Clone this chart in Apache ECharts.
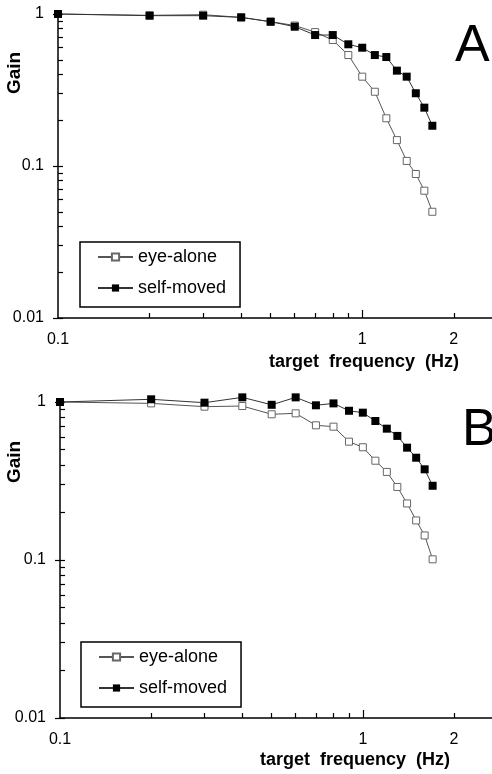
<!DOCTYPE html>
<html><head><meta charset="utf-8">
<script src="https://cdn.jsdelivr.net/npm/echarts@6/dist/echarts.min.js"></script>
<style>html,body{margin:0;padding:0;background:#fff}#c{width:492px;height:774px}</style>
</head><body><div id="c"></div>
<script>
const freqs = [0.1,0.2,0.3,0.4,0.5,0.6,0.7,0.8,0.9,1.0,1.1,1.2,1.3,1.4,1.5,1.6,1.7];
const eyeA  = [1.0,0.98,0.99,0.95,0.89,0.84,0.76,0.674,0.537,0.387,0.308,0.206,0.148,0.108,0.0886,0.0688,0.050];
const selfA = [1.0,0.975,0.975,0.95,0.89,0.825,0.727,0.727,0.632,0.600,0.537,0.521,0.424,0.387,0.301,0.242,0.184];
const eyeB  = [1.0,0.98,0.934,0.943,0.836,0.848,0.712,0.698,0.561,0.517,0.425,0.361,0.29,0.228,0.178,0.143,0.101];
const selfB = [1.0,1.04,0.99,1.07,0.96,1.07,0.953,0.98,0.88,0.856,0.758,0.678,0.61,0.514,0.444,0.375,0.295];
const seriesNames = ['eye-alone','self-moved'];
const xMinorTicks = [0.2,0.3,0.4,0.5,0.6,0.7,0.8,0.9,2];
const xMajorTicks = [1];
const xLabels = [0.1,1,2];
const yMinorTicks = [0.02,0.03,0.04,0.05,0.06,0.07,0.08,0.09,0.2,0.3,0.4,0.5,0.6,0.7,0.8,0.9];
const yMajorTicks = [0.01,0.1,1];
const xTitle = 'target  frequency  (Hz)';
const yTitle = 'Gain';
const panelLetters = ['A','B'];

const FONT = 'Liberation Sans, Arial, sans-serif';
const fmt = v => String(Number(Number(v).toPrecision(6)));
const XMIN = 0.1, XMAX = 2.67, YMIN = 0.01, YMAX = 1;

function pair(d){ return freqs.map((f,i)=>[f,d[i]]); }

const grids = [
  {left:58, top:14, right:0, height:304, containLabel:false, outerBoundsMode:'none'},
  {left:60, top:402, right:0, height:316, containLabel:false, outerBoundsMode:'none'}
];
const xAxes = [], yAxes = [];
grids.forEach((g,gi)=>{
  xAxes.push({type:'log', gridIndex:gi, position:'bottom', min:XMIN, max:XMAX, logBase:10,
    axisLine:{show:true, lineStyle:{color:'#000', width:1.5}},
    axisTick:{show:true, inside:true, length:5, customValues:xMinorTicks, lineStyle:{color:'#000', width:1.2}},
    axisLabel:{show:false}, splitLine:{show:false}});
  xAxes.push({type:'log', gridIndex:gi, position:'bottom', offset:0, min:XMIN, max:XMAX, logBase:10,
    axisLine:{show:false},
    axisTick:{show:true, inside:true, length:8, customValues:xMajorTicks, lineStyle:{color:'#000', width:1.2}},
    axisLabel:{show:true, customValues:xLabels, formatter:fmt, margin:14, fontSize:16, color:'#000', fontFamily:FONT},
    splitLine:{show:false}});
  yAxes.push({type:'log', gridIndex:gi, position:'left', min:YMIN, max:YMAX, logBase:10,
    axisLine:{show:true, lineStyle:{color:'#000', width:1.5}},
    axisTick:{show:true, inside:true, length:5, customValues:yMinorTicks.concat(yMajorTicks), lineStyle:{color:'#000', width:1.2}},
    axisLabel:{show:false}, splitLine:{show:false}});
  yAxes.push({type:'log', gridIndex:gi, position:'left', offset:0, min:YMIN, max:YMAX, logBase:10,
    axisLine:{show:false},
    axisTick:{show:true, inside:false, length:5, customValues:yMajorTicks, lineStyle:{color:'#000', width:1.2}},
    axisLabel:{show:true, customValues:yMajorTicks, formatter:fmt, margin:14, fontSize:16, color:'#000', fontFamily:FONT},
    splitLine:{show:false}});
});

const panels = [[eyeA, selfA],[eyeB, selfB]];
const series = [];
panels.forEach((p,gi)=>{
  series.push({name:seriesNames[0], type:'line', xAxisIndex:gi*2, yAxisIndex:gi*2, data:pair(p[0]),
    symbol:'rect', symbolSize:7, showAllSymbol:true, clip:false, z:2,
    lineStyle:{color:'#555', width:1}, itemStyle:{color:'#fff', borderColor:'#666', borderWidth:1}});
  series.push({name:seriesNames[1], type:'line', xAxisIndex:gi*2, yAxisIndex:gi*2, data:pair(p[1]),
    symbol:'rect', symbolSize:8, showAllSymbol:true, clip:false, z:3,
    lineStyle:{color:'#333', width:1}, itemStyle:{color:'#000', borderColor:'#000', borderWidth:0}});
});

const legendBase = {orient:'vertical', data:seriesNames, itemWidth:35, itemHeight:9, itemGap:13,
  padding:[6,14,10,17], borderColor:'#000', borderWidth:1.5, borderRadius:0, selectedMode:false,
  textStyle:{fontSize:18, color:'#000', fontFamily:FONT}};
const legends = [
  Object.assign({}, legendBase, {left:80, top:242}),
  Object.assign({}, legendBase, {left:81, top:642})
];

const chart = echarts.init(document.getElementById('c'), null, {renderer:'canvas'});
chart.setOption({
  animation:false,
  backgroundColor:'#fff',
  grid:grids,
  xAxis:xAxes,
  yAxis:yAxes,
  legend:legends,
  series:series,
  graphic:[
    {type:'text', x:15, y:73, rotation:Math.PI/2, style:{text:yTitle, font:'bold 19px '+FONT, fill:'#000', textAlign:'center', textVerticalAlign:'middle'}},
    {type:'text', x:15, y:462, rotation:Math.PI/2, style:{text:yTitle, font:'bold 19px '+FONT, fill:'#000', textAlign:'center', textVerticalAlign:'middle'}},
    {type:'text', x:364, y:362, style:{text:xTitle, font:'bold 18px '+FONT, fill:'#000', textAlign:'center', textVerticalAlign:'middle'}},
    {type:'text', x:355, y:760, style:{text:xTitle, font:'bold 18px '+FONT, fill:'#000', textAlign:'center', textVerticalAlign:'middle'}},
    {type:'text', x:455, y:47, style:{text:panelLetters[0], font:'52px '+FONT, fill:'#000', textAlign:'left', textVerticalAlign:'middle'}},
    {type:'text', x:462, y:431, style:{text:panelLetters[1], font:'52px '+FONT, fill:'#000', textAlign:'left', textVerticalAlign:'middle'}}
  ]
});
</script></body></html>
